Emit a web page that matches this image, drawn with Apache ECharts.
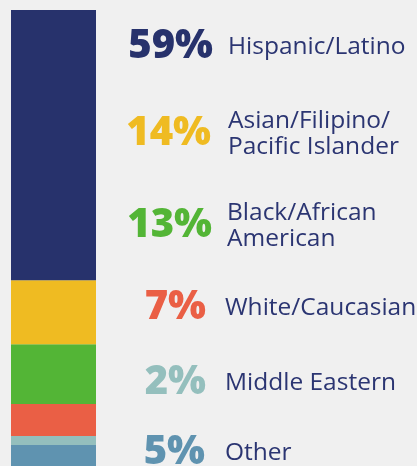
<!DOCTYPE html>
<html>
<head>
<meta charset="utf-8">
<script src="https://cdn.jsdelivr.net/npm/echarts@6/dist/echarts.min.js"></script>
<style>
	html, body { margin: 0; padding: 0; background: #f0f0f0; }
	#main { width: 417px; height: 466px; }
</style>
</head>
<body>
<div id="main"></div>
<script>
// data, top to bottom
var groups = ['Hispanic/Latino', 'Asian/Filipino/\nPacific Islander', 'Black/African\nAmerican', 'White/Caucasian', 'Middle Eastern', 'Other'];
var shares = [59, 14, 13, 7, 2, 5];
var colors = ['#27326c', '#efbb22', '#53b536', '#ea5f45', '#94bfbd', '#5f93b0'];

// small label nudges (layout only)
var nudgeY = [-5, 0, 10, 10, 3, -9];
var pctNudgeX = [1, -1, 0, -6, -6, -7];
var nameNudgeX = [2, 2, 1, -1, -1, -1];

var textColor = '#2b3572';

// stacked bar, first series sits at the bottom
var barSeries = [];
for (var i = groups.length - 1; i >= 0; i--) {
	barSeries.push({
		name: groups[i],
		type: 'bar',
		stack: 'total',
		xAxisIndex: 0,
		yAxisIndex: 0,
		barWidth: '100%',
		itemStyle: { color: colors[i] },
		data: [shares[i]]
	});
}

// label rows
var pctData = [], nameData = [];
for (var j = 0; j < groups.length; j++) {
	pctData.push({
		value: 1,
		label: {
			color: colors[j],
			offset: [pctNudgeX[j], nudgeY[j]]
		}
	});
	nameData.push({
		value: 1,
		label: {
			offset: [nameNudgeX[j], nudgeY[j]]
		}
	});
}

var myChart = echarts.init(document.getElementById('main'));
var option = {
	backgroundColor: '#f0f0f0',
	animation: false,
	grid: [{
		left: 11,
		top: 10,
		width: 85,
		height: 458,
		outerBoundsMode: 'none'
	}, {
		left: 212,
		right: 0,
		top: 11,
		height: 492,
		outerBoundsMode: 'none'
	}],
	xAxis: [{
		gridIndex: 0,
		type: 'category',
		data: ['all'],
		show: false
	}, {
		gridIndex: 1,
		type: 'value',
		min: 0,
		max: 1,
		show: false
	}],
	yAxis: [{
		gridIndex: 0,
		type: 'value',
		min: 0,
		max: 100,
		show: false
	}, {
		gridIndex: 1,
		type: 'category',
		inverse: true,
		data: groups,
		show: false
	}],
	series: barSeries.concat([{
		type: 'bar',
		xAxisIndex: 1,
		yAxisIndex: 1,
		barWidth: 10,
		barGap: '-100%',
		itemStyle: { color: 'rgba(0,0,0,0)' },
		label: {
			show: true,
			position: 'left',
			distance: 0,
			fontFamily: 'Open Sans',
			fontWeight: 800,
			fontSize: 40,
			formatter: function(p) {
				return shares[p.dataIndex] + '%';
			}
		},
		data: pctData
	}, {
		type: 'bar',
		xAxisIndex: 1,
		yAxisIndex: 1,
		barWidth: 10,
		barGap: '-100%',
		itemStyle: { color: 'rgba(0,0,0,0)' },
		label: {
			show: true,
			position: 'insideLeft',
			distance: 14,
			fontFamily: 'Open Sans',
			fontSize: 24.5,
			lineHeight: 26,
			color: textColor,
			formatter: function(p) {
				return groups[p.dataIndex];
			}
		},
		data: nameData
	}])
};
myChart.setOption(option);
</script>
</body>
</html>
